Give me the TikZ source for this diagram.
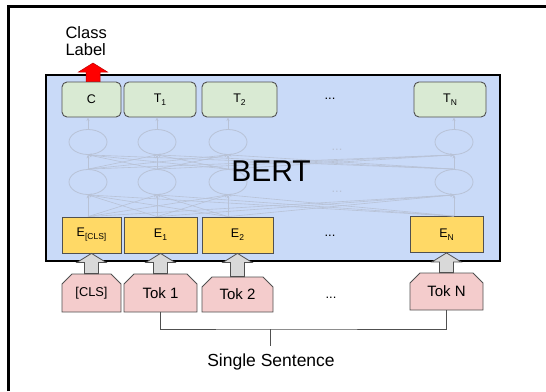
\documentclass[tikz,border=0pt]{standalone}
\usepackage{fontspec}
\setmainfont{Liberation Sans}
\usepackage{xcolor}
\definecolor{bert_blue}{RGB}{201,218,248}
\definecolor{out_green}{RGB}{217,234,211}
\definecolor{emb_yellow}{RGB}{255,217,102}
\definecolor{tok_pink}{RGB}{244,204,204}
\definecolor{net_grey}{RGB}{184,194,214}
\definecolor{edge_grey}{RGB}{80,80,80}
\definecolor{arrow_grey}{RGB}{217,217,217}
\usepackage{tikz}
\usetikzlibrary{shapes.misc}
\usetikzlibrary{shapes.geometric}
\usetikzlibrary{arrows.meta}
\usetikzlibrary{calc}
\newcommand{\lowidx}[1]{\raisebox{-0.45ex}{\fontsize{8.5}{9}\selectfont #1}}
\newcommand{\blockup}[3][]{%
\filldraw[#1] let \p1=(#2), \p2=(#3) in
  (\x1-7pt,\y1) -- (\x1-7pt,\y2-9pt) -- (\x1-14.5pt,\y2-9pt) -- (\x1,\y2)
  -- (\x1+14.5pt,\y2-9pt) -- (\x1+7pt,\y2-9pt) -- (\x1+7pt,\y1) -- cycle;}

\begin{document}
\begin{tikzpicture}[x=1pt,y=-1pt,
  outbox/.style={draw=edge_grey, line width=0.9pt, fill=out_green, rounded corners=5pt,
    minimum height=35pt, inner sep=0pt, font=\fontsize{12.5}{14}\selectfont},
  embbox/.style={draw=edge_grey, line width=0.8pt, fill=emb_yellow,
    minimum height=36pt, inner sep=0pt, font=\fontsize{12.5}{14}\selectfont},
  tokbox/.style={chamfered rectangle, chamfered rectangle corners={north west,north east},
    chamfered rectangle xsep=5pt, chamfered rectangle ysep=5pt, draw=edge_grey,
    line width=0.8pt, fill=tok_pink, inner sep=0pt, font=\fontsize{15}{16}\selectfont},
  netnode/.style={ellipse, draw=net_grey, line width=0.8pt, minimum width=38pt,
    minimum height=25pt, inner sep=0pt},
  netedge/.style={draw=net_grey, line width=0.6pt, -{Stealth[length=3.5pt,width=3pt]}},
  dots/.style={font=\fontsize{13}{14}\selectfont},
]
\useasboundingbox (0,0) rectangle (546,391);
\draw[line width=3pt] (8,391) -- (8,6) -- (546,6);

% --- BERT box
\draw[fill=bert_blue, line width=2.5pt] (46,75) rectangle (500,261);

% --- output row
\node[outbox, minimum width=59pt] (out-c) at (91.5,99.5) {C};
\node[outbox, minimum width=72pt] (out-a) at (160,99.5) {T\lowidx{1}};
\node[outbox, minimum width=75pt] (out-b) at (239.5,99.5) {T\lowidx{2}};
\node[dots] (out-dots) at (330,99) {...};
\node[outbox, minimum width=72pt] (out-n) at (450,99.5) {T\lowidx{N}};

% --- embedding row
\node[embbox, minimum width=59pt] (emb-c) at (91.5,235) {E\lowidx{[CLS]}};
\node[embbox, minimum width=73pt] (emb-a) at (160.5,235) {E\lowidx{1}};
\node[embbox, minimum width=71pt] (emb-b) at (237.5,235) {E\lowidx{2}};
\node[dots] (emb-dots) at (330,236) {...};
\node[embbox, minimum width=73pt] (emb-n) at (446.5,234.5) {E\lowidx{N}};

% --- hidden layers
\foreach \col/\xx in {c/88,a/157,b/228,n/454}{
  \node[netnode] (low-\col) at (\xx,182) {};
  \node[netnode] (up-\col) at (\xx,142) {};
  \draw[netedge] (up-\col.north) -- (out-\col.south -| up-\col);
}
\node[dots, text=net_grey] (low-dots) at (337,192) {...};
\node[dots, text=net_grey] (up-dots) at (337,150) {...};
\foreach \i in {c,a,b,n}{
  \foreach \j in {c,a,b,n}{
    \draw[netedge] (emb-\i.north -| low-\i) -- (low-\j.south);
    \draw[netedge] (low-\i.north) -- (up-\j.south);
  }
}
\node[font=\fontsize{30}{32}\selectfont] (bert) at (271,171) {BERT};

% --- token row
\node[tokbox, minimum width=59pt, minimum height=38pt, font=\fontsize{12.8}{14}\selectfont] (tok-c) at (91.5,293) {[CLS]};
\node[tokbox, minimum width=73pt, minimum height=38pt] (tok-a) at (160.5,293) {Tok 1};
\node[tokbox, minimum width=71pt, minimum height=35pt] (tok-b) at (237.5,294.5) {Tok 2};
\node[dots] (tok-dots) at (331,298) {...};
\node[tokbox, minimum width=73pt, minimum height=37pt] (tok-n) at (446.5,291.5) {Tok N};

\foreach \col in {c,a,b,n}{
  \blockup[fill=arrow_grey, draw=edge_grey, line width=0.8pt]{tok-\col.north}{emb-\col.south}
}

% --- sentence bracket
\coordinate (brace) at (270,329);
\node[font=\fontsize{17.5}{19}\selectfont] (sentence) at (271,362) {Single Sentence};
\draw[edge_grey, line width=1pt] (tok-a.south) |- (brace) -| (tok-n.south);
\draw[edge_grey, line width=1pt] (brace) -- (brace |- 0,346);

% --- class label
\node[anchor=west, align=left, font=\fontsize{16.5}{17.5}\selectfont] (label) at (62,41) {Class\\Label};
\coordinate (label-tip) at (93,63);
\blockup[fill=red, draw=red!75!black, line width=0.5pt]{out-c.north -| label-tip}{label-tip}

\end{tikzpicture}
\end{document}
